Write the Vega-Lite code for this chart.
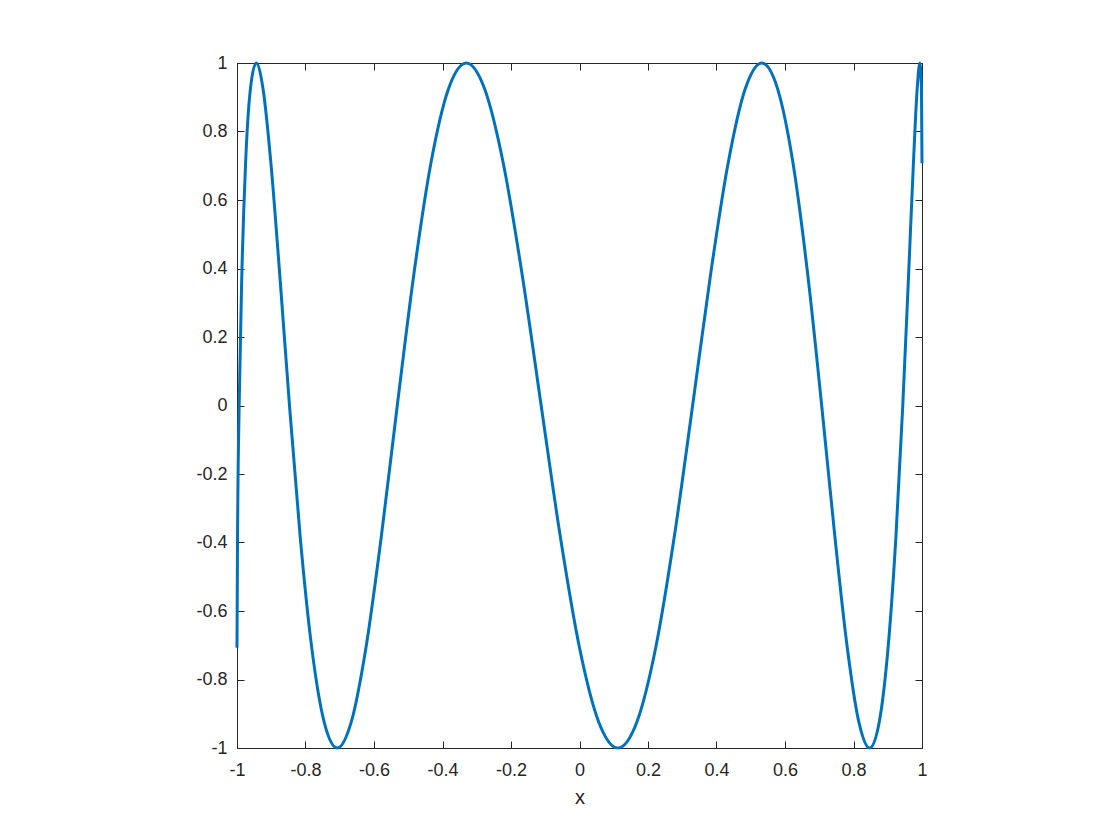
{
  "$schema": "https://vega.github.io/schema/vega-lite/v6.json",
  "autosize": {"type": "none"},
  "padding": {"left": 237, "top": 63, "right": 198, "bottom": 92},
  "width": 685,
  "height": 685,
  "background": "white",
  "config": {
    "view": {"stroke": null},
    "axis": {
      "domainColor": "#262626",
      "domainWidth": 1,
      "tickColor": "#262626",
      "tickWidth": 1,
      "tickSize": -7,
      "labelColor": "#262626",
      "labelFont": "Liberation Sans",
      "labelFontSize": 18,
      "labelFlush": false,
      "titleFont": "Liberation Sans",
      "titleFontSize": 20,
      "titleFontWeight": "normal",
      "titleColor": "#262626",
      "grid": false
    }
  },
  "data": {"values": [
    {"x": 1, "y": 0.70711},
    {"x": 0.998427, "y": 0.92388},
    {"x": 0.993712, "y": 1},
    {"x": 0.985871, "y": 0.92388},
    {"x": 0.974928, "y": 0.70711},
    {"x": 0.960917, "y": 0.38268},
    {"x": 0.943883, "y": 0},
    {"x": 0.92388, "y": -0.38268},
    {"x": 0.900969, "y": -0.70711},
    {"x": 0.875223, "y": -0.92388},
    {"x": 0.846724, "y": -1},
    {"x": 0.815561, "y": -0.92388},
    {"x": 0.781831, "y": -0.70711},
    {"x": 0.745642, "y": -0.38268},
    {"x": 0.707107, "y": 0},
    {"x": 0.666347, "y": 0.38268},
    {"x": 0.62349, "y": 0.70711},
    {"x": 0.578671, "y": 0.92388},
    {"x": 0.532032, "y": 1},
    {"x": 0.483719, "y": 0.92388},
    {"x": 0.433884, "y": 0.70711},
    {"x": 0.382683, "y": 0.38268},
    {"x": 0.330279, "y": 0},
    {"x": 0.276836, "y": -0.38268},
    {"x": 0.222521, "y": -0.70711},
    {"x": 0.167506, "y": -0.92388},
    {"x": 0.111964, "y": -1},
    {"x": 0.05607, "y": -0.92388},
    {"x": 0, "y": -0.70711},
    {"x": -0.05607, "y": -0.38268},
    {"x": -0.111964, "y": 0},
    {"x": -0.167506, "y": 0.38268},
    {"x": -0.222521, "y": 0.70711},
    {"x": -0.276836, "y": 0.92388},
    {"x": -0.330279, "y": 1},
    {"x": -0.382683, "y": 0.92388},
    {"x": -0.433884, "y": 0.70711},
    {"x": -0.483719, "y": 0.38268},
    {"x": -0.532032, "y": 0},
    {"x": -0.578671, "y": -0.38268},
    {"x": -0.62349, "y": -0.70711},
    {"x": -0.666347, "y": -0.92388},
    {"x": -0.707107, "y": -1},
    {"x": -0.745642, "y": -0.92388},
    {"x": -0.781831, "y": -0.70711},
    {"x": -0.815561, "y": -0.38268},
    {"x": -0.846724, "y": 0},
    {"x": -0.875223, "y": 0.38268},
    {"x": -0.900969, "y": 0.70711},
    {"x": -0.92388, "y": 0.92388},
    {"x": -0.943883, "y": 1},
    {"x": -0.960917, "y": 0.92388},
    {"x": -0.974928, "y": 0.70711},
    {"x": -0.985871, "y": 0.38268},
    {"x": -0.993712, "y": 0},
    {"x": -0.998427, "y": -0.38268},
    {"x": -1, "y": -0.70711}
  ]},
  "layer": [
    {
      "mark": {"type": "line", "opacity": 0},
      "encoding": {
        "x": {"field": "x", "type": "quantitative", "scale": {"domain": [-1, 1], "nice": false, "zero": false},
              "axis": {"orient": "top", "labels": false, "title": null, "values": [-1, -0.8, -0.6, -0.4, -0.2, 0, 0.2, 0.4, 0.6, 0.8, 1]}},
        "y": {"field": "y", "type": "quantitative", "scale": {"domain": [-1, 1], "nice": false, "zero": false},
              "axis": {"orient": "right", "labels": false, "title": null, "values": [-1, -0.8, -0.6, -0.4, -0.2, 0, 0.2, 0.4, 0.6, 0.8, 1]}}
      }
    },
    {
      "mark": {"type": "line", "color": "#0072BD", "strokeWidth": 3, "interpolate": "monotone"},
      "encoding": {
        "x": {"field": "x", "type": "quantitative", "scale": {"domain": [-1, 1], "nice": false, "zero": false},
              "axis": {"orient": "bottom", "title": "x", "titlePadding": 8, "labelPadding": 20,
                       "values": [-1, -0.8, -0.6, -0.4, -0.2, 0, 0.2, 0.4, 0.6, 0.8, 1],
                       "labelExpr": "replace(format(datum.value, '.1~f'), '\u2212', '-')"}},
        "y": {"field": "y", "type": "quantitative", "scale": {"domain": [-1, 1], "nice": false, "zero": false},
              "axis": {"orient": "left", "title": null, "labelPadding": 17,
                       "values": [-1, -0.8, -0.6, -0.4, -0.2, 0, 0.2, 0.4, 0.6, 0.8, 1],
                       "labelExpr": "replace(format(datum.value, '.1~f'), '\u2212', '-')"}}
      }
    }
  ],
  "resolve": {"scale": {"x": "independent", "y": "independent"}}
}
